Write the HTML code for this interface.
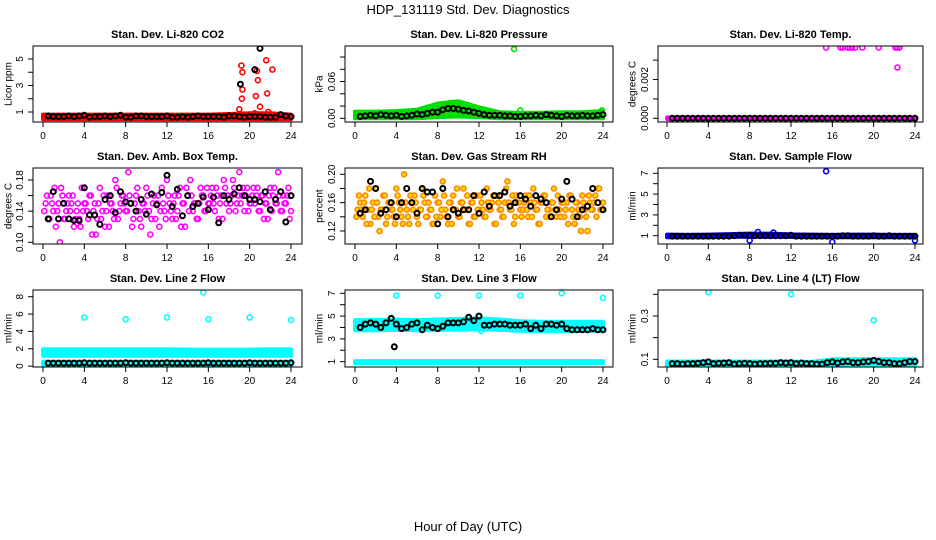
<!DOCTYPE html>
<html><head><meta charset="utf-8"><style>
html,body{margin:0;padding:0;background:#fff;}
svg{display:block;font-family:"Liberation Sans",Arial,sans-serif;}
</style></head><body>
<svg id="chart" width="936" height="540" viewBox="0 0 936 540">
<rect x="0" y="0" width="936" height="540" fill="#fff"/>
<text x="468" y="14" text-anchor="middle" font-size="13">HDP_131119  Std. Dev. Diagnostics</text>
<text x="468" y="531" text-anchor="middle" font-size="13">Hour of Day (UTC)</text>
</svg>
<script>
// ---- shared data ----
const xTicks = [0,4,8,12,16,20,24];
const bandHours = [0,2,4,6,8,10,12,14,16,18,20,22,24];
const blackHours = [0.5,1,1.5,2,2.5,3,3.5,4,4.5,5,5.5,6,6.5,7,7.5,8,8.5,9,9.5,10,10.5,11,11.5,12,12.5,13,13.5,14,14.5,15,15.5,16,16.5,17,17.5,18,18.5,19,19.5,20,20.5,21,21.5,22,22.5,23,23.5,24];

// Panel 1 CO2
const co2BandLo = [0.45,0.45,0.45,0.45,0.45,0.45,0.45,0.45,0.45,0.45,0.45,0.45,0.45];
const co2BandHi = [0.8,0.8,0.8,0.8,0.8,0.8,0.8,0.8,0.8,0.85,0.9,0.9,0.8];
const co2RedH = [19.2,19.3,19.3,19.25,19.0,20.7,20.8,20.6,21.6,21.7,22.2,21.0,21.8,20.5];
const co2RedV = [4.5,4.0,2.7,2.0,1.2,4.1,3.4,2.2,4.9,2.4,4.2,1.4,1.0,0.9];
const co2OutH = [19.1,20.5,21.0];
const co2OutV = [3.1,4.2,5.8];
const co2Black = [0.7,0.65,0.65,0.65,0.7,0.65,0.7,0.75,0.6,0.65,0.65,0.7,0.65,0.7,0.75,0.6,0.6,0.7,0.7,0.65,0.65,0.65,0.65,0.7,0.6,0.6,0.65,0.6,0.65,0.7,0.65,0.65,0.65,0.65,0.6,0.7,0.7,0.65,0.6,0.65,0.65,0.65,0.6,0.6,0.6,0.8,0.7,0.65];

// Panel 2 Pressure
const prBandLo = [0,0,0,0,0.002,0.003,0.002,0,0,0,0,0,0];
const prBandHi = [0.011,0.011,0.012,0.014,0.024,0.028,0.018,0.01,0.009,0.009,0.01,0.01,0.012];
const prOutH = [15.4,16.0,23.9,9.2,10.3];
const prOutV = [0.113,0.013,0.013,0.025,0.022];
const prBlack = [0.003,0.004,0.005,0.004,0.006,0.005,0.004,0.005,0.003,0.004,0.005,0.007,0.006,0.008,0.01,0.01,0.014,0.016,0.016,0.015,0.013,0.012,0.01,0.008,0.006,0.005,0.005,0.005,0.004,0.004,0.003,0.003,0.004,0.004,0.005,0.004,0.006,0.005,0.004,0.003,0.005,0.004,0.004,0.005,0.004,0.004,0.005,0.006];

// Panel 3 Li-820 Temp
const tpBandLo = [-0.00004,-0.00004,-0.00004,-0.00004,-0.00004,-0.00004,-0.00004,-0.00004,-0.00004,-0.00004,-0.00004,-0.00004,-0.00004];
const tpBandHi = [0.00004,0.00004,0.00004,0.00004,0.00004,0.00004,0.00004,0.00004,0.00004,0.00004,0.00004,0.00004,0.00004];
const tpOutH = [15.4,16.8,17.0,17.5,17.7,17.9,18.2,18.9,20.5,22.1,22.3,22.5,22.3];
const tpOutV = [0.00365,0.00365,0.00365,0.00365,0.00365,0.00365,0.00365,0.00365,0.00365,0.00365,0.00365,0.00365,0.00262];
const tpBlack = [0,0,0,0,0,0,0,0,0,0,0,0,0,0,0,0,0,0,0,0,0,0,0,0,0,0,0,0,0,0,0,0,0,0,0,0,0,0,0,0,0,0,0,0,0,0,0,0];

// Panel 4 Amb Box Temp
const abA = [.15,.13,.16,.14,.12,.15,.17,.13,.14,.16,.15,.12,.14,.13,.17,.15,
.14,.16,.11,.15,.13,.17,.14,.12,.16,.15,.14,.18,.13,.15,.16,.14,
.19,.15,.13,.16,.14,.12,.15,.17,.14,.13,.16,.15,.12,.17,.14,.18,
.15,.13,.16,.14,.17,.15,.12,.16,.18,.14,.15,.13,.17,.16,.14,.15,
.16,.15,.17,.13,.16,.18,.15,.14,.16,.17,.15,.19,.16,.14,.17,.15,
.16,.15,.17,.14,.16,.15,.13,.17,.16,.15,.19,.14,.16,.15,.17,.14];
const abB = [.14,.16,.13,.15,.17,.14,.10,.16,.13,.15,.14,.16,.13,.15,.12,.14,
.15,.13,.16,.14,.11,.15,.13,.16,.14,.12,.15,.13,.17,.14,.16,.15,
.14,.16,.12,.15,.17,.13,.15,.14,.16,.11,.15,.13,.16,.14,.15,.13,
.16,.14,.15,.13,.16,.12,.15,.17,.14,.16,.15,.13,.15,.16,.14,.17,
.15,.17,.14,.16,.15,.13,.17,.16,.15,.18,.14,.16,.15,.17,.16,.14,
.15,.17,.16,.14,.16,.13,.15,.16,.14,.17,.15,.16,.14,.15,.16,.13];
const abBlack = [.13,.165,.13,.15,.13,.128,.128,.17,.135,.135,.123,.155,.16,.138,.165,.152,.15,.14,.155,.136,.162,.148,.164,.186,.146,.168,.134,.16,.146,.15,.158,.142,.158,.125,.16,.155,.162,.17,.16,.155,.155,.152,.165,.142,.155,.165,.126,.16];

// Panel 5 Gas Stream RH
const rhA = [.15,.16,.14,.17,.15,.13,.16,.18,.14,.15,.17,.13,.16,.15,.14,.18,
.16,.14,.20,.15,.13,.16,.17,.14,.15,.18,.16,.14,.15,.13,.17,.16,
.14,.19,.15,.13,.16,.17,.15,.14,.16,.18,.15,.13,.16,.14,.17,.15,
.16,.14,.18,.15,.16,.13,.17,.15,.14,.16,.19,.15,.17,.14,.16,.15,
.15,.17,.14,.16,.18,.15,.13,.16,.17,.14,.15,.16,.18,.14,.15,.16,
.14,.16,.17,.15,.13,.16,.14,.17,.15,.12,.16,.15,.17,.18,.15,.16];
const rhB = [.14,.17,.15,.16,.13,.18,.15,.14,.16,.12,.15,.17,.14,.16,.15,.13,
.17,.15,.13,.16,.14,.17,.15,.16,.13,.15,.17,.14,.16,.15,.13,.14,
.16,.15,.17,.14,.16,.13,.15,.18,.14,.16,.15,.17,.13,.16,.14,.15,
.17,.15,.14,.16,.15,.17,.13,.16,.15,.14,.18,.16,.15,.13,.17,.16,
.14,.16,.15,.17,.14,.16,.15,.13,.16,.17,.15,.14,.16,.15,.17,.14,
.16,.15,.13,.17,.14,.16,.15,.12,.16,.14,.17,.15,.16,.14,.18,.15];
const rhBlack = [.145,.15,.19,.18,.145,.15,.16,.14,.16,.18,.16,.145,.18,.175,.175,.13,.18,.14,.15,.145,.15,.15,.17,.145,.175,.155,.17,.17,.175,.155,.16,.17,.165,.155,.17,.165,.16,.14,.15,.165,.19,.165,.14,.15,.155,.18,.16,.15];

// Panel 6 Sample Flow
const sfBandLo = [0.85,0.85,0.85,0.88,0.9,0.9,0.88,0.85,0.85,0.85,0.85,0.85,0.85];
const sfBandHi = [1.1,1.08,1.1,1.15,1.2,1.2,1.12,1.1,1.08,1.1,1.1,1.08,1.08];
const sfOutH = [15.4,8.0,16.0,24.0,8.8,10.3];
const sfOutV = [7.2,0.55,0.4,0.55,1.35,1.3];
const sfBlack = [0.95,0.95,0.95,0.95,0.95,0.95,0.95,0.95,0.95,0.95,0.95,0.95,1.0,1.05,1.05,1.05,1.0,1.0,1.0,1.0,1.0,1.0,1.0,1.05,0.95,0.95,0.95,0.95,0.95,0.95,0.95,0.95,0.95,1.0,1.0,0.95,0.95,0.95,0.95,1.0,0.95,0.95,1.0,0.95,0.95,0.95,0.95,0.95];

// Panel 7 Line 2 Flow
const l2BandLo = [1.2,1.2,1.2,1.2,1.2,1.2,1.2,1.2,1.2,1.2,1.2,1.2,1.2];
const l2BandHi = [1.95,1.95,1.95,1.95,1.95,1.95,1.95,1.9,1.9,1.9,1.9,1.95,1.95];
const l2LowLo = [0.15,0.15,0.15,0.15,0.15,0.15,0.15,0.15,0.15,0.15,0.15,0.15,0.15];
const l2LowHi = [0.5,0.5,0.5,0.5,0.5,0.5,0.5,0.5,0.5,0.5,0.5,0.5,0.5];
const l2OutH = [4,8,12,15.5,16,20,24];
const l2OutV = [5.6,5.4,5.6,8.5,5.4,5.6,5.3];
const l2Black = [0.35,0.35,0.35,0.35,0.35,0.35,0.35,0.38,0.35,0.35,0.35,0.35,0.35,0.35,0.35,0.38,0.35,0.35,0.35,0.35,0.35,0.35,0.35,0.38,0.35,0.35,0.35,0.35,0.35,0.35,0.35,0.38,0.35,0.35,0.35,0.35,0.35,0.35,0.35,0.38,0.35,0.35,0.35,0.35,0.35,0.35,0.35,0.38];

// Panel 8 Line 3 Flow
const l3BandLo = [3.75,3.75,3.8,3.75,3.8,3.8,3.85,3.8,3.7,3.7,3.7,3.7,3.7];
const l3BandHi = [4.65,4.65,4.7,4.65,4.7,4.75,4.8,4.7,4.55,4.5,4.5,4.5,4.5];
const l3LowLo = [0.88,0.88,0.88,0.88,0.88,0.88,0.88,0.88,0.88,0.88,0.88,0.88,0.88];
const l3LowHi = [1.05,1.05,1.05,1.05,1.05,1.05,1.05,1.05,1.05,1.05,1.05,1.05,1.05];
const l3OutH = [4,8,12,16,20,24,12.2];
const l3OutV = [6.8,6.8,6.8,6.8,7.0,6.6,3.7];
const l3Black = [4.0,4.3,4.4,4.3,4.0,4.4,4.8,4.3,3.9,4.0,4.3,4.4,3.8,4.2,4.0,3.9,4.1,4.4,4.4,4.4,4.5,4.9,4.6,5.0,4.2,4.2,4.3,4.3,4.3,4.2,4.2,4.2,4.3,3.9,4.2,3.9,4.3,4.3,4.2,4.3,3.9,3.8,3.8,3.8,3.8,3.9,3.8,3.8];
const l3BlackOutH = [3.8];
const l3BlackOutV = [2.3];

// Panel 9 Line 4 Flow
const l4BandLo = [0.065,0.065,0.065,0.065,0.065,0.065,0.065,0.065,0.07,0.07,0.07,0.07,0.07];
const l4BandHi = [0.09,0.09,0.09,0.09,0.09,0.09,0.09,0.088,0.1,0.1,0.1,0.1,0.1];
const l4OutH = [4,12,20];
const l4OutV = [0.41,0.40,0.28];
const l4Black = [0.08,0.08,0.078,0.08,0.08,0.082,0.085,0.088,0.08,0.082,0.083,0.085,0.078,0.08,0.082,0.08,0.078,0.08,0.08,0.082,0.082,0.085,0.083,0.085,0.08,0.083,0.08,0.08,0.078,0.078,0.085,0.088,0.083,0.088,0.09,0.085,0.085,0.088,0.09,0.095,0.09,0.085,0.085,0.08,0.08,0.085,0.09,0.09];

// ---- layout ----
const NS = 'http://www.w3.org/2000/svg';
const svg = document.getElementById('chart');
const cols = [{bx0:33,bx1:302,x0:43,x1:291,lab:9},{bx0:345,bx1:613,x0:355,x1:603,lab:320},{bx0:658,bx1:923,x0:667,x1:915,lab:633}];
const rows = [{by0:46,by1:122},{by0:168,by1:244},{by0:290,by1:367}];

function mk(tag, attrs, parent){
  const e = document.createElementNS(NS, tag);
  for (const k in attrs) e.setAttribute(k, attrs[k]);
  (parent||svg).appendChild(e);
  return e;
}

function panel(cfg){
  const c = cols[cfg.col], r = rows[cfg.row];
  const g = mk('g', {});
  
  
  const sx = h => c.x0 + (h/24)*(c.x1-c.x0);
  const sy = v => r.by1 - (v-cfg.ymin)/(cfg.ymax-cfg.ymin)*(r.by1-r.by0);
  const t = mk('text', {x:(c.bx0+c.bx1)/2, y:r.by0-8, 'text-anchor':'middle','font-size':'11','font-weight':'bold'}, g);
  t.textContent = cfg.title;
  
  
  const ymid = (r.by0+r.by1)/2;
  const yl = mk('text', {x:c.lab, y:ymid, 'text-anchor':'middle','font-size':'10', transform:'rotate(-90 '+c.lab+' '+ymid+')', 'dominant-baseline':'middle'}, g);
  yl.textContent = cfg.ylabel;
  
  
  const cid = 'clip'+cfg.col+cfg.row;
  const cp = mk('clipPath', {id:cid}, g);
  mk('rect', {x:c.bx0, y:r.by0, width:c.bx1-c.bx0, height:r.by1-r.by0}, cp);
  const pg = mk('g', {'clip-path':'url(#'+cid+')'}, g);
  (cfg.bands||[]).forEach(b=>{
    let d = '';
    bandHours.forEach((h,i)=>{ d += (i?'L':'M')+sx(h).toFixed(1)+','+sy(b.hi[i]).toFixed(1); });
    for (let i=bandHours.length-1;i>=0;i--) d += 'L'+sx(bandHours[i]).toFixed(1)+','+sy(b.lo[i]).toFixed(1);
    d += 'Z';
    const p = mk('path', {d:d, fill:cfg.color, stroke:cfg.color, 'stroke-width':'4', 'stroke-linejoin':'round'}, pg);
    
    
  });
  const pt = (h,v,stroke,fill,name,w)=>{
    const e = mk('circle', {cx:sx(h).toFixed(1), cy:sy(v).toFixed(1), r:'2.5', fill:fill, stroke:stroke, 'stroke-width':w||'1.6'}, pg);
    
    
  };
  (cfg.scatter||[]).forEach((arr,k)=>{
    arr.forEach((v,i)=>{ pt((i+1-0.5*k)*0.25, v, cfg.color, cfg.fill||'none', 'colored-point'); });
  });
  (cfg.outH||[]).forEach((h,i)=> pt(h, cfg.outV[i], cfg.color, cfg.fill||'none', 'outlier-point'));
  blackHours.forEach((h,i)=> pt(h, cfg.black[i], '#000', 'none', 'mean-point', '2'));
  (cfg.bOutH||[]).forEach((h,i)=> pt(h, cfg.bOutV[i], '#000', 'none', 'mean-outlier-point', '2'));
  const bx = mk('rect', {x:c.bx0, y:r.by0, width:c.bx1-c.bx0, height:r.by1-r.by0, fill:'none', stroke:'#000', 'stroke-width':'1'}, g);
  
  
  xTicks.forEach(h=>{
    mk('line', {x1:sx(h), x2:sx(h), y1:r.by1, y2:r.by1+5, stroke:'#000'}, g);
    const tx = mk('text', {x:sx(h), y:r.by1+17, 'text-anchor':'middle', 'font-size':'10'}, g);
    tx.textContent = h;
    
    
  });
  cfg.yTicks.forEach(v=>{
    mk('line', {x1:c.bx0-5, x2:c.bx0, y1:sy(v), y2:sy(v), stroke:'#000'}, g);
  });
  const lx = c.bx0 - 10;
  cfg.yLabels.forEach(v=>{
    const yy = sy(v);
    const tx = mk('text', {x:lx, y:yy, 'text-anchor':'middle','font-size':'10', transform:'rotate(-90 '+lx+' '+yy+')'}, g);
    tx.textContent = v;
    
    
  });
}

panel({name:'panel-co2', col:0,row:0,title:'Stan. Dev. Li-820 CO2',ylabel:'Licor ppm',ymin:0.245,ymax:5.98,yTicks:[1,2,3,4,5],yLabels:['1','3','5'],color:'#ff0000',bands:[{lo:co2BandLo,hi:co2BandHi}],outH:co2RedH,outV:co2RedV,black:co2Black,bOutH:co2OutH,bOutV:co2OutV});
panel({name:'panel-pressure', col:1,row:0,title:'Stan. Dev. Li-820 Pressure',ylabel:'kPa',ymin:-0.006,ymax:0.118,yTicks:[0,0.02,0.04,0.06,0.08,0.1],yLabels:['0.00','0.06'],color:'#00dd00',bands:[{lo:prBandLo,hi:prBandHi}],outH:prOutH,outV:prOutV,black:prBlack});
panel({name:'panel-licor-temp', col:2,row:0,title:'Stan. Dev. Li-820 Temp.',ylabel:'degrees C',ymin:-0.00019,ymax:0.00373,yTicks:[0,0.001,0.002,0.003],yLabels:['0.000','0.002'],color:'#ff00ff',bands:[{lo:tpBandLo,hi:tpBandHi}],outH:tpOutH,outV:tpOutV,black:tpBlack});
panel({name:'panel-amb-box-temp', col:0,row:1,title:'Stan. Dev. Amb. Box Temp.',ylabel:'degrees C',ymin:0.0978,ymax:0.1954,yTicks:[0.10,0.12,0.14,0.16,0.18],yLabels:['0.10','0.14','0.18'],color:'#ff00ff',scatter:[abA,abB],black:abBlack});
panel({name:'panel-gas-rh', col:1,row:1,title:'Stan. Dev. Gas Stream RH',ylabel:'percent',ymin:0.1016,ymax:0.2089,yTicks:[0.12,0.14,0.16,0.18,0.20],yLabels:['0.12','0.16','0.20'],color:'#ff8800',fill:'#ffdd00',scatter:[rhA,rhB],black:rhBlack});
panel({name:'panel-sample-flow', col:2,row:1,title:'Stan. Dev. Sample Flow',ylabel:'ml/min',ymin:0.2,ymax:7.51,yTicks:[1,2,3,4,5,6,7],yLabels:['1','3','5','7'],color:'#0000ff',bands:[{lo:sfBandLo,hi:sfBandHi}],outH:sfOutH,outV:sfOutV,black:sfBlack});
panel({name:'panel-line2-flow', col:0,row:2,title:'Stan. Dev. Line 2 Flow',ylabel:'ml/min',ymin:-0.1,ymax:8.77,yTicks:[0,2,4,6,8],yLabels:['0','2','4','6','8'],color:'#00ffff',bands:[{lo:l2BandLo,hi:l2BandHi},{lo:l2LowLo,hi:l2LowHi}],outH:l2OutH,outV:l2OutV,black:l2Black});
panel({name:'panel-line3-flow', col:1,row:2,title:'Stan. Dev. Line 3 Flow',ylabel:'ml/min',ymin:0.53,ymax:7.29,yTicks:[1,2,3,4,5,6,7],yLabels:['1','3','5','7'],color:'#00ffff',bands:[{lo:l3BandLo,hi:l3BandHi},{lo:l3LowLo,hi:l3LowHi}],outH:l3OutH,outV:l3OutV,black:l3Black,bOutH:l3BlackOutH,bOutV:l3BlackOutV});
panel({name:'panel-line4-flow', col:2,row:2,title:'Stan. Dev. Line 4 (LT) Flow',ylabel:'ml/min',ymin:0.0645,ymax:0.42,yTicks:[0.1,0.2,0.3,0.4],yLabels:['0.1','0.3'],color:'#00ffff',bands:[{lo:l4BandLo,hi:l4BandHi}],outH:l4OutH,outV:l4OutV,black:l4Black});
</script>
</body></html>
